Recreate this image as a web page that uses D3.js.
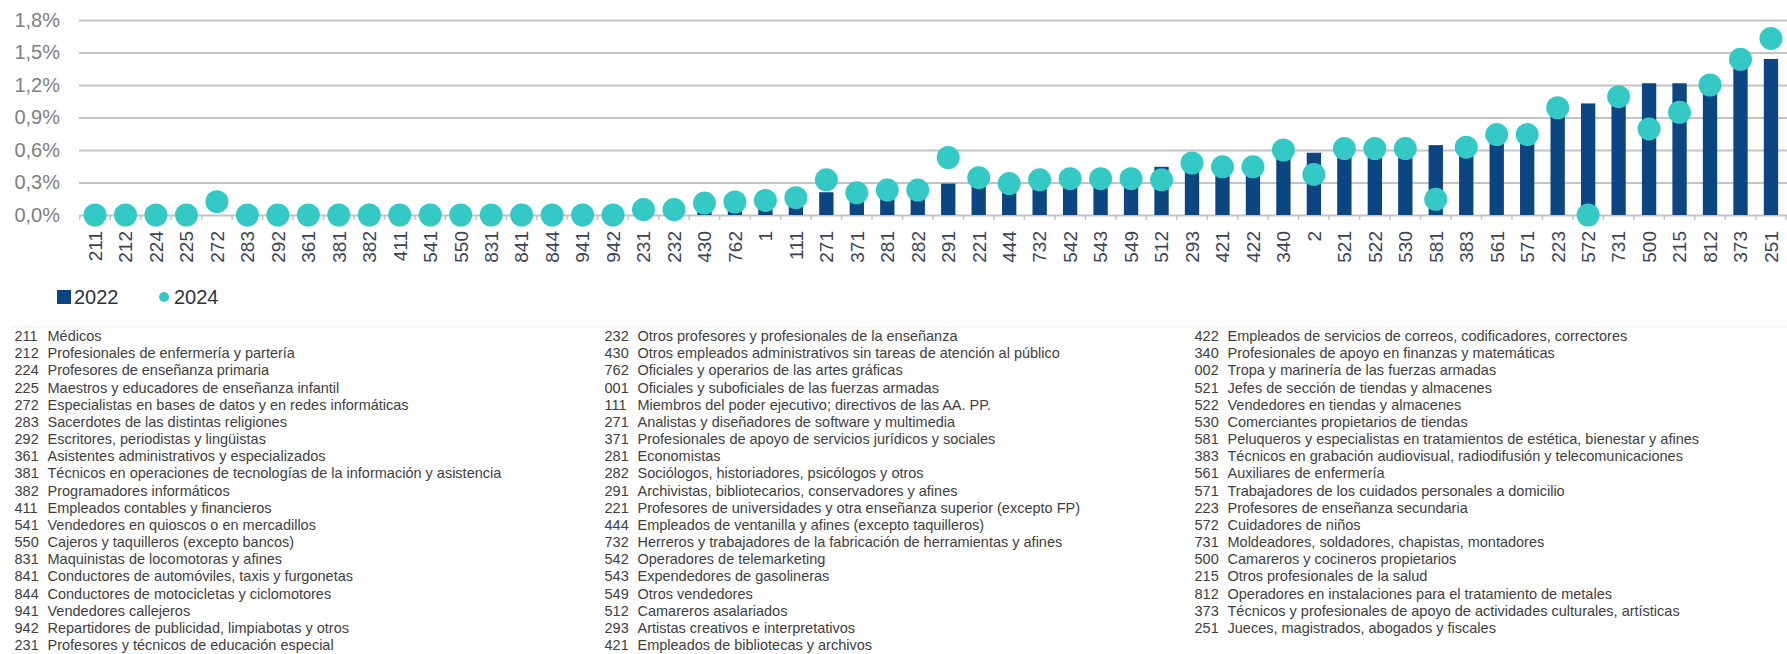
<!DOCTYPE html>
<html lang="es">
<head>
<meta charset="utf-8">
<script src="https://cdn.jsdelivr.net/npm/d3@7"></script>
<style>
  html, body { margin: 0; padding: 0; background: #fff; }
  svg { display: block; font-family: "Liberation Sans", Arial, sans-serif; }
</style>
</head>
<body>
<div id="chart"></div>
<script>
// Occupation codes, in chart order
const categories = ["211","212","224","225","272","283","292","361","381","382","411","541","550","831","841","844","941","942",
  "231","232","430","762","1","111","271","371","281","282","291","221","444","732","542","543","549","512",
  "293","421","422","340","2","521","522","530","581","383","561","571","223","572","731","500","215","812","373","251"];

// Share (%) in 2022 (bars)
const values2022 = [0,0,0,0,0,0,0,0,0,0,0,0,0,0,0,0,0,0,
  0.03,0.03,0.07,0.07,0.08,0.10,0.21,0.16,0.19,0.18,0.29,0.28,0.24,0.27,0.27,0.27,0.28,0.445,
  0.42,0.38,0.38,0.54,0.575,0.55,0.55,0.55,0.645,0.57,0.68,0.68,0.93,1.03,1.04,1.216,1.216,1.15,1.40,1.44];

// Share (%) in 2024 (dots)
const values2024 = [0,0,0,0,0.123,0,0,0,0,0,0,0,0,0,0,0,0,0,
  0.05,0.05,0.11,0.12,0.135,0.16,0.325,0.205,0.23,0.23,0.53,0.345,0.29,0.325,0.335,0.335,0.335,0.325,
  0.48,0.445,0.445,0.60,0.375,0.613,0.613,0.613,0.145,0.626,0.742,0.742,0.99,0,1.092,0.794,0.948,1.20,1.437,1.63];

const yTicks = [0, 0.3, 0.6, 0.9, 1.2, 1.5, 1.8];

const seriesNames = ["2022", "2024"];

// Code descriptions, same order as categories
const descriptions = [
  "Médicos",
  "Profesionales de enfermería y partería",
  "Profesores de enseñanza primaria",
  "Maestros y educadores de enseñanza infantil",
  "Especialistas en bases de datos y en redes informáticas",
  "Sacerdotes de las distintas religiones",
  "Escritores, periodistas y lingüistas",
  "Asistentes administrativos y especializados",
  "Técnicos en operaciones de tecnologías de la información y asistencia",
  "Programadores informáticos",
  "Empleados contables y financieros",
  "Vendedores en quioscos o en mercadillos",
  "Cajeros y taquilleros (excepto bancos)",
  "Maquinistas de locomotoras y afines",
  "Conductores de automóviles, taxis y furgonetas",
  "Conductores de motocicletas y ciclomotores",
  "Vendedores callejeros",
  "Repartidores de publicidad, limpiabotas y otros",
  "Profesores y técnicos de educación especial",
  "Otros profesores y profesionales de la enseñanza",
  "Otros empleados administrativos sin tareas de atención al público",
  "Oficiales y operarios de las artes gráficas",
  "Oficiales y suboficiales de las fuerzas armadas",
  "Miembros del poder ejecutivo; directivos de las AA. PP.",
  "Analistas y diseñadores de software y multimedia",
  "Profesionales de apoyo de servicios jurídicos y sociales",
  "Economistas",
  "Sociólogos, historiadores, psicólogos y otros",
  "Archivistas, bibliotecarios, conservadores y afines",
  "Profesores de universidades y otra enseñanza superior (excepto FP)",
  "Empleados de ventanilla y afines (excepto taquilleros)",
  "Herreros y trabajadores de la fabricación de herramientas y afines",
  "Operadores de telemarketing",
  "Expendedores de gasolineras",
  "Otros vendedores",
  "Camareros asalariados",
  "Artistas creativos e interpretativos",
  "Empleados de bibliotecas y archivos",
  "Empleados de servicios de correos, codificadores, correctores",
  "Profesionales de apoyo en finanzas y matemáticas",
  "Tropa y marinería de las fuerzas armadas",
  "Jefes de sección de tiendas y almacenes",
  "Vendedores en tiendas y almacenes",
  "Comerciantes propietarios de tiendas",
  "Peluqueros y especialistas en tratamientos de estética, bienestar y afines",
  "Técnicos en grabación audiovisual, radiodifusión y telecomunicaciones",
  "Auxiliares de enfermería",
  "Trabajadores de los cuidados personales a domicilio",
  "Profesores de enseñanza secundaria",
  "Cuidadores de niños",
  "Moldeadores, soldadores, chapistas, montadores",
  "Camareros y cocineros propietarios",
  "Otros profesionales de la salud",
  "Operadores en instalaciones para el tratamiento de metales",
  "Técnicos y profesionales de apoyo de actividades culturales, artísticas",
  "Jueces, magistrados, abogados y fiscales"
];

const width = 1787, height = 654;
const barColor = "#0b4582";
const dotColor = "#35c9c6";
const gridColor = "#c4c4c4";

const svg = d3.select("#chart").append("svg")
  .attr("width", width)
  .attr("height", height);

const x = d3.scalePoint()
  .domain(categories)
  .range([79.8, 1786.2])
  .padding(0.5);
const step = x.step();
const barWidth = step * 0.47;

const y = d3.scaleLinear()
  .domain([0, 1.8])
  .range([215, 20]);

const fmt = d => d3.format(".1f")(d).replace(".", ",") + "%";

// Gridlines + y labels
const yAxis = d3.axisLeft(y)
  .tickValues(yTicks)
  .tickSize(-(width - 79))
  .tickPadding(19)
  .tickFormat(fmt);

svg.append("g")
  .attr("transform", "translate(79,0)")
  .call(yAxis)
  .call(g => g.select(".domain").remove())
  .call(g => g.selectAll(".tick line").attr("stroke", gridColor).attr("stroke-width", 2))
  .call(g => g.selectAll(".tick text")
    .attr("fill", "#808080")
    .style("font-size", "20px")
    .style("font-family", "'Liberation Sans', Arial, sans-serif"));

// Category boundary ticks on the baseline
const boundaries = d3.range(categories.length + 1).map(i => 79.8 + i * step);
svg.append("g").selectAll("line")
  .data(boundaries)
  .join("line")
  .attr("x1", d => d).attr("x2", d => d)
  .attr("y1", y(0)).attr("y2", y(0) + 5)
  .attr("stroke", gridColor)
  .attr("stroke-width", 1.5);

// Bars 2022
svg.append("g").selectAll("rect")
  .data(categories)
  .join("rect")
  .attr("x", (d) => x(d) - barWidth / 2)
  .attr("y", (d, i) => y(values2022[i]))
  .attr("width", barWidth)
  .attr("height", (d, i) => y(0) - y(values2022[i]))
  .attr("fill", barColor);

// Dots 2024
svg.append("g").selectAll("circle")
  .data(categories)
  .join("circle")
  .attr("cx", d => x(d))
  .attr("cy", (d, i) => y(values2024[i]))
  .attr("r", 11.5)
  .attr("fill", dotColor);

// X labels, rotated
svg.append("g").selectAll("text")
  .data(categories)
  .join("text")
  .attr("transform", d => `translate(${x(d)},231) rotate(-90)`)
  .attr("text-anchor", "end")
  .attr("dy", "0.36em")
  .attr("fill", "#3b4454")
  .style("font-size", "19px")
  .text(d => d);

// Legend
const legend = svg.append("g");
legend.append("rect")
  .attr("x", 57).attr("y", 290)
  .attr("width", 14).attr("height", 14)
  .attr("fill", barColor);
legend.append("text")
  .attr("x", 74).attr("y", 304)
  .attr("fill", "#2d3340")
  .style("font-size", "20px")
  .text(seriesNames[0]);
legend.append("circle")
  .attr("cx", 164).attr("cy", 297)
  .attr("r", 5)
  .attr("fill", dotColor);
legend.append("text")
  .attr("x", 174).attr("y", 304)
  .attr("fill", "#2d3340")
  .style("font-size", "20px")
  .text(seriesNames[1]);

// Code table
const table = svg.append("g");
table.append("line")
  .attr("x1", 10).attr("x2", width)
  .attr("y1", 327).attr("y2", 327)
  .attr("stroke", "#eeeeee");

const rowsPerCol = 19;
const colX = [14.5, 604.5, 1194.5];
const rowY = i => 341 + i * 17.17;

const rows = table.selectAll("g.row")
  .data(categories.map((c, i) => ({ code: c.padStart(3, "0"), text: descriptions[i], i })))
  .join("g")
  .attr("class", "row")
  .attr("transform", d => `translate(${colX[Math.floor(d.i / rowsPerCol)]},${rowY(d.i % rowsPerCol)})`);

rows.append("text")
  .attr("fill", "#404040")
  .style("font-size", "14.5px")
  .text(d => d.code);

rows.append("text")
  .attr("x", 33)
  .attr("fill", "#404040")
  .style("font-size", "14.5px")
  .text(d => d.text);
</script>
</body>
</html>
